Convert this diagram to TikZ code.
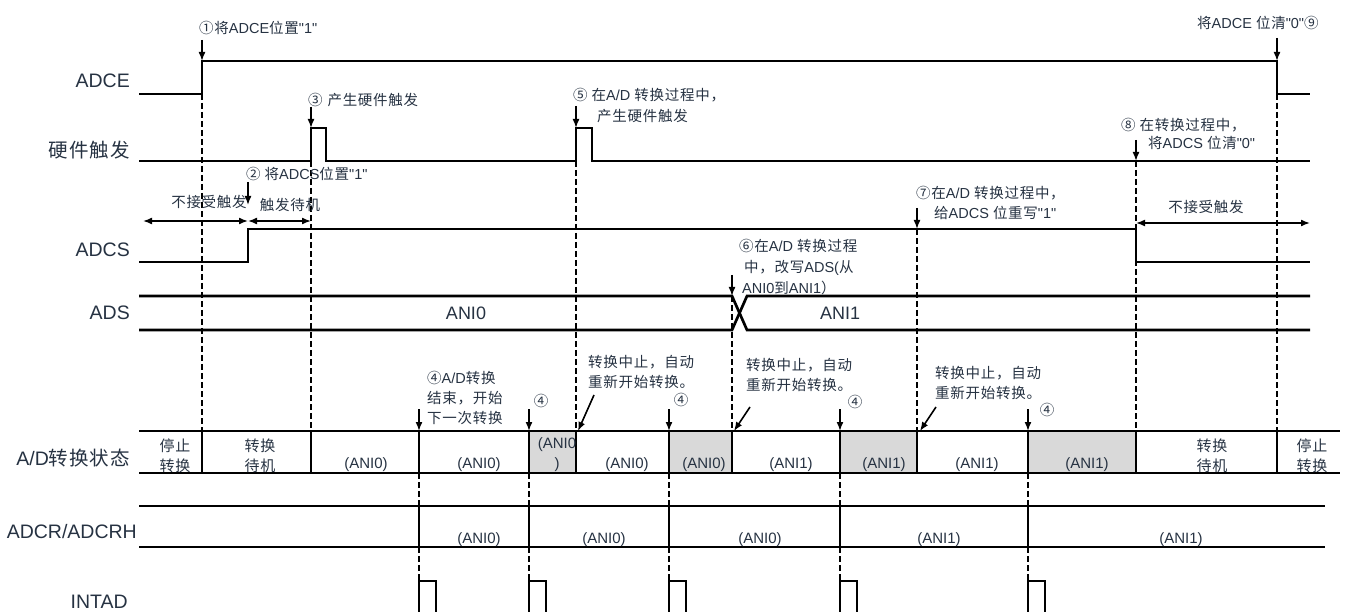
\documentclass[tikz,border=0pt]{standalone}
\usepackage{fontspec}
\setmainfont{Liberation Sans}[Ligatures=TeXOff]
\newfontfamily\cjkfont{Noto Sans CJK SC}[LetterSpace=5]
\usetikzlibrary{arrows.meta}
\XeTeXinterchartokenstate=1
\newXeTeXintercharclass\cjkcls
\newcount\cjkcc
\def\setcjkrange#1#2{\cjkcc=#1\relax\loop\XeTeXcharclass\cjkcc=\cjkcls\advance\cjkcc by 1\relax\ifnum\cjkcc<#2\relax\repeat}
\setcjkrange{"4E00}{"A000}
\setcjkrange{"3000}{"3040}
\setcjkrange{"FF00}{"FFF0}
\setcjkrange{"2460}{"2474}
\XeTeXinterchartoks 0 \cjkcls = {\cjkfont}
\XeTeXinterchartoks 4095 \cjkcls = {\cjkfont}
\XeTeXinterchartoks \cjkcls 0 = {\normalfont}
\XeTeXinterchartoks 4095 0 = {\normalfont}
\definecolor{textc}{RGB}{38,50,66}
\definecolor{cellgray}{RGB}{217,217,217}
\tikzset{
  lbl/.style={font=\fontsize{19.5}{23}\selectfont, text=textc, inner sep=0pt},
  ann/.style={font=\fontsize{14.5}{20}\selectfont, text=textc, inner sep=0pt, align=left},
  cell/.style={font=\fontsize{15}{20}\selectfont, text=textc, inner sep=0pt, align=center},
  adsl/.style={font=\fontsize{18}{22}\selectfont, text=textc, inner sep=0pt},
  sig/.style={line width=2.7pt, line join=miter},
  vguide/.style={dash pattern=on 6pt off 3pt, line width=1.8pt},
  marker/.style={line width=1.6pt, -{Latex[length=9pt,width=7pt]}},
  dbl/.style={line width=1.6pt, {Latex[length=9pt,width=7pt]}-{Latex[length=9pt,width=7pt]}},
}
\begin{document}
\begin{tikzpicture}[x=1pt,y=-1pt]
\useasboundingbox (0,0) rectangle (1347,612);

% ---------- row labels
\node[lbl, anchor=east] (lADCE) at (130,81) {ADCE};
\node[lbl, anchor=east] (lTRG) at (130,150) {硬件触发};
\node[lbl, anchor=east] (lADCS) at (130,250) {ADCS};
\node[lbl, anchor=east] (lADS) at (130,313) {ADS};
\node[lbl, anchor=east] (lST) at (130,458) {A/D转换状态};
\node[lbl, anchor=east] (lADCR) at (137,532) {ADCR/ADCRH};
\node[lbl, anchor=east] (lINT) at (128,602) {INTAD};

% ---------- gray cells
\foreach \a/\b in {529/576, 669/732, 840/917, 1028/1136}
  \fill[cellgray] (\a,431) rectangle (\b,473);

% ---------- dashed guides
\draw[vguide] (202,94) -- (202,431);
\draw[vguide] (311,161) -- (311,431);
\draw[vguide] (576,161) -- (576,431);
\draw[vguide] (732,296) -- (732,431);
\draw[vguide] (917,229) -- (917,431);
\draw[vguide] (1136,161) -- (1136,431);
\draw[vguide] (1277,94) -- (1277,431);
\foreach \x in {419,529,669,840,1028} {
  \draw[vguide] (\x,473) -- (\x,506);
  \draw[vguide] (\x,547) -- (\x,581);
}

% ---------- signals
\draw[sig] (139,94) -- (202,94) -- (202,61) -- (1277,61) -- (1277,94) -- (1310,94);
\draw[sig] (139,161) -- (311,161) -- (311,128) -- (326,128) -- (326,161) -- (576,161) -- (576,128) -- (592,128) -- (592,161) -- (1310,161);
\draw[sig] (139,262) -- (248,262) -- (248,229) -- (1136,229) -- (1136,262) -- (1310,262);
\draw[sig] (139,296) -- (732,296) -- (747,330) -- (1310,330);
\draw[sig] (139,330) -- (732,330) -- (747,296) -- (1310,296);
\node[adsl] (ani0) at (466,313) {ANI0};
\node[adsl] (ani1) at (840,313) {ANI1};

% status row
\draw[sig] (139,431) -- (1340,431);
\draw[sig] (139,473) -- (1340,473);
\foreach \x in {202,311,419,529,576,669,732,840,917,1028,1136,1277}
  \draw[sig] (\x,431) -- (\x,473);

% ADCR row
\draw[sig] (139,506) -- (1325,506);
\draw[sig] (139,547) -- (1325,547);
\foreach \x in {419,529,669,840,1028}
  \draw[sig] (\x,506) -- (\x,547);

% INTAD pulses
\foreach \x in {419,529,669,840,1028}
  \draw[sig] (\x,615) -- (\x,581) -- ({\x+17},581) -- ({\x+17},615);

% ---------- status cell texts
\node[cell] (s1) at (175,456) {停止\\转换};
\node[cell] (s2) at (260,456) {转换\\待机};
\node[cell] (s3) at (366,465) {(ANI0)};
\node[cell] (s4) at (479,465) {(ANI0)};
\begin{scope}
  \clip (529,431) rectangle (576,473);
  \node[cell] (s5) at (557,455) {(ANI0\\)};
\end{scope}
\node[cell] (s6) at (627,465) {(ANI0)};
\node[cell] (s7) at (704,465) {(ANI0)};
\node[cell] (s8) at (791,465) {(ANI1)};
\node[cell] (s9) at (884,465) {(ANI1)};
\node[cell] (s10) at (977,465) {(ANI1)};
\node[cell] (s11) at (1087,465) {(ANI1)};
\node[cell] (s12) at (1212,456) {转换\\待机};
\node[cell] (s13) at (1312,456) {停止\\转换};

% ADCR texts
\node[cell] (r1) at (479,540) {(ANI0)};
\node[cell] (r2) at (604,540) {(ANI0)};
\node[cell] (r3) at (760,540) {(ANI0)};
\node[cell] (r4) at (939,540) {(ANI1)};
\node[cell] (r5) at (1181,540) {(ANI1)};

% ---------- annotations
\node[ann, anchor=west] (a1) at (199,28) {①将ADCE位置"1"};
\coordinate (a1t) at (202,40);
\draw[marker] (a1t) -- (202,61);

\node[ann, anchor=west] (a3) at (308,100) {③\,\,产生硬件触发};
\coordinate (a3t) at (311,107);
\draw[marker] (a3t) -- (311,128);

\node[ann, anchor=west] (a5) at (573,95) {⑤ 在A/D 转换过程中，};
\node[ann, anchor=west] (a5b) at (597,116) {产生硬件触发};
\coordinate (a5t) at (576,106);
\draw[marker] (a5t) -- (576,128);

\node[ann, anchor=west] (a9) at (1197,23) {将ADCE 位清"0"⑨};
\coordinate (a9t) at (1277,38);
\draw[marker] (a9t) -- (1277,61);

\node[ann, anchor=west] (a8) at (1121,125) {⑧ 在转换过程中，};
\node[ann, anchor=west] (a8b) at (1148,143) {将ADCS 位清"0"};
\coordinate (a8t) at (1136,140);
\draw[marker] (a8t) -- (1136,161);

\node[ann, anchor=west] (a2) at (246,174) {② 将ADCS位置"1"};
\coordinate (a2t) at (248,182);
\draw[marker] (a2t) -- (248,205);

\node[ann] (n1) at (209,202) {不接受触发};
\node[ann] (n2) at (290,205) {触发待机};
\draw[dbl] (143,221) -- (248,221);
\draw[dbl] (248,221) -- (311,221);
\node[ann] (n3) at (1206,207) {不接受触发};
\draw[dbl] (1136,223) -- (1310,223);

\node[ann, anchor=west] (a7) at (916,193) {⑦在A/D 转换过程中，};
\node[ann, anchor=west] (a7b) at (934,213) {给ADCS 位重写"1"};
\coordinate (a7t) at (917,208);
\draw[marker] (a7t) -- (917,229);

\node[ann, anchor=west] (a6) at (739,246) {⑥在A/D 转换过程};
\node[ann, anchor=west] (a6b) at (744,268) {中，改写ADS(从};
\node[ann, anchor=west] (a6c) at (742,288) {ANI0到ANI1）};
\coordinate (a6t) at (732,275);
\draw[marker] (a6t) -- (732,296);

\node[ann, anchor=west] (a4) at (427,398) {④A/D转换\\结束，开始\\下一次转换};
\node[ann] (c2) at (541,401) {④};
\node[ann] (c3) at (681,400) {④};
\node[ann] (c4) at (855,402) {④};
\node[ann] (c5) at (1047,410) {④};
\foreach \x in {419,529,669,840,1028}
  \draw[marker] (\x,409) -- (\x,431);

\node[ann, anchor=west] (b1) at (588,372) {转换中止，自动\\重新开始转换。};
\node[ann, anchor=west] (b2) at (746,375) {转换中止，自动\\重新开始转换。};
\node[ann, anchor=west] (b3) at (935,383) {转换中止，自动\\重新开始转换。};
\draw[marker] (594,395) -- (578,431);
\draw[marker] (750,407) -- (734,431);
\draw[marker] (936,407) -- (920,431);
\end{tikzpicture}
\end{document}
